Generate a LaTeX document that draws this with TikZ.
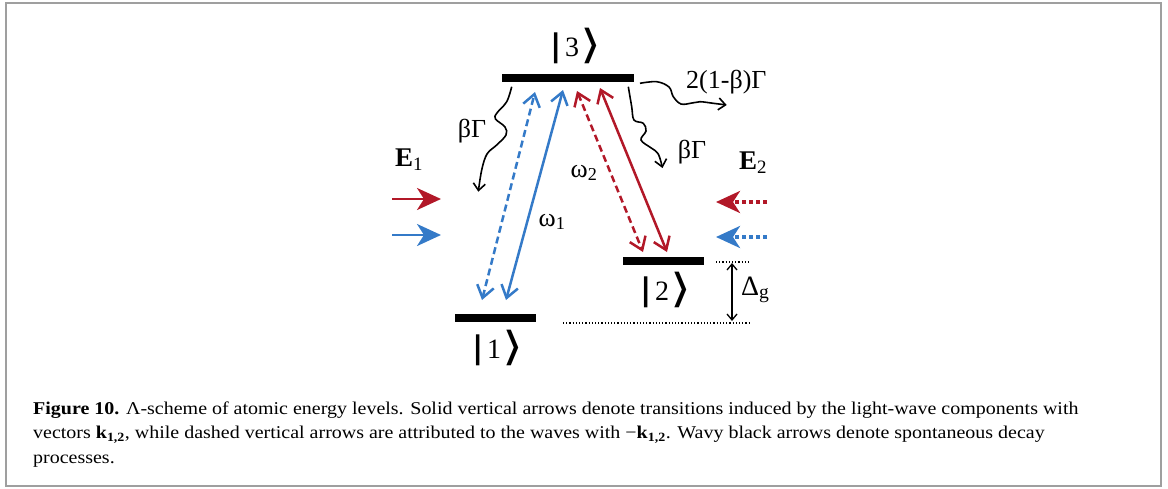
\documentclass[tikz,border=0pt]{standalone}
\usepackage{fontspec}
\setmainfont{Liberation Serif}
\newfontfamily\djv{DejaVu Sans}
\newfontfamily\capfont[FakeStretch=1.11]{Liberation Serif}
\usetikzlibrary{arrows.meta}
\definecolor{myblue}{RGB}{52,122,200}
\definecolor{myred}{RGB}{178,24,40}
\tikzset{
  lvl/.style={fill=black, draw=none, inner sep=0pt, minimum height=8pt},
  trans/.style={line width=2.5pt, {Straight Barb[length=12pt,width=17pt]}-{Straight Barb[length=12pt,width=17pt]}},
  dashtr/.style={trans, dash pattern=on 7pt off 4pt},
  wavy/.style={line width=1.6pt, -{Straight Barb[length=7pt,width=12pt]}},
  field/.style={line width=2.6pt, -{Stealth[length=24pt,width=22pt,inset=7pt]}},
  dotfield/.style={field, line width=3.6pt, dash pattern=on 4pt off 3pt},
  ket/.style={inner sep=0pt, font=\fontsize{28}{28}\selectfont},
  lab/.style={inner sep=0pt, font=\fontsize{26}{26}\selectfont},
}
\newcommand{\ketlab}[1]{{\fontsize{31}{31}\selectfont\djv\bfseries|}\kern3pt#1\kern1pt{\fontsize{40}{40}\selectfont\djv\raisebox{-2pt}{\scalebox{1.35}[1]{⟩}}}}
\begin{document}
\begin{tikzpicture}[x=1pt,y=-1pt]
\useasboundingbox (0,0) rectangle (1168,488);
\node[draw=gray!75, line width=2pt, minimum width=1155pt, minimum height=483pt, inner sep=0pt] (frame) at (583.5,244.5) {};

% levels
\node[lvl, minimum width=132pt] (L3) at (568,77.5) {};
\node[lvl, minimum width=81pt] (L1) at (495.5,317.5) {};
\node[lvl, minimum width=81pt] (L2) at (663.5,260.5) {};
\node[ket] (k3) at (576,46) {\ketlab{3}};
\node[ket] (k1) at (498,348) {\ketlab{1}};
\node[ket] (k2) at (666,290) {\ketlab{2}};

% transition end points
\coordinate (b1) at (482,300);
\coordinate (b2) at (535,92);
\coordinate (c1) at (506,300);
\coordinate (c2) at (563,90);
\coordinate (r1) at (577,91);
\coordinate (r2) at (643,252);
\coordinate (s1) at (600,88);
\coordinate (s2) at (667,252);
\draw[dashtr, myblue] (b1) -- (b2);
\draw[trans, myblue] (c1) -- (c2);
\draw[dashtr, myred] (r1) -- (r2);
\draw[trans, myred] (s1) -- (s2);
\node[lab] (w1) at (552,222) {ω\textsubscript{1}};
\node[lab] (w2) at (584,173) {ω\textsubscript{2}};

% spontaneous decay
\draw[wavy] plot[smooth, tension=0.6] coordinates {(511.7,86.7) (506.7,101.7) (496.7,113.3) (495.5,119) (505,127) (506,135) (496.7,145) (487,154) (481.7,170) (478.3,191.7)};
\draw[wavy] plot[smooth, tension=0.6] coordinates {(628.3,86.7) (631.7,106.7) (634,120) (643.3,123.3) (646,131) (641,140) (651.7,148.3) (658.3,154) (662.5,168)};
\draw[wavy] plot[smooth, tension=0.6] coordinates {(640,83.3) (656.7,81.7) (669,87) (673.3,96.7) (681,104) (692,103) (700,101.7) (713.3,103.3) (726.7,105)};
\node[lab, anchor=west] (g0) at (686,82) {2(1-β)Γ};
\node[lab] (g1) at (472,131) {βΓ};
\node[lab] (g2) at (692,152) {βΓ};

% fields
\node[lab, font=\fontsize{27}{27}\selectfont] (E1) at (409,160) {\textbf{E}\textsubscript{1}};
\node[lab, font=\fontsize{27}{27}\selectfont] (E2) at (753,163) {\textbf{E}\textsubscript{2}};
\coordinate (e1a) at (392,199); \coordinate (e1b) at (441,199);
\coordinate (e2a) at (392,235); \coordinate (e2b) at (441,235);
\draw[field, myred] (e1a) -- (e1b);
\draw[field, myblue] (e2a) -- (e2b);
\coordinate (f1a) at (767,202); \coordinate (f1b) at (716,202);
\coordinate (f2a) at (767,237); \coordinate (f2b) at (716,237);
\draw[dotfield, myred] (f1a) -- (f1b);
\draw[dotfield, myblue] (f2a) -- (f2b);

% detuning
\coordinate (d1) at (716,262); \coordinate (d2) at (750,262);
\coordinate (d3) at (563,323); \coordinate (d4) at (750,323);
\draw[line width=1.2pt, dotted] (d1) -- (d2);
\draw[line width=1.2pt, dotted] (d3) -- (d4);
\coordinate (a1) at (732,263); \coordinate (a2) at (732,321);
\draw[line width=1.3pt, {Straight Barb[length=6pt,width=10pt]}-{Straight Barb[length=6pt,width=10pt]}] (a1) -- (a2);
\node[lab, font=\fontsize{28}{28}\selectfont, anchor=west] (dg) at (741,290) {Δ\textsubscript{g}};

% caption
\node[anchor=base west, align=left, inner sep=0pt, font=\capfont\fontsize{18}{24.5}\selectfont] (cap) at (33,463)
{\textbf{Figure 10.} Λ-scheme of atomic energy levels. Solid vertical arrows denote transitions induced by the light-wave components with\\
vectors \textbf{k}\textsubscript{\textbf{1,2}}, while dashed vertical arrows are attributed to the waves with −\textbf{k}\textsubscript{\textbf{1,2}}. Wavy black arrows denote spontaneous decay\\
processes.};
\end{tikzpicture}
\end{document}
